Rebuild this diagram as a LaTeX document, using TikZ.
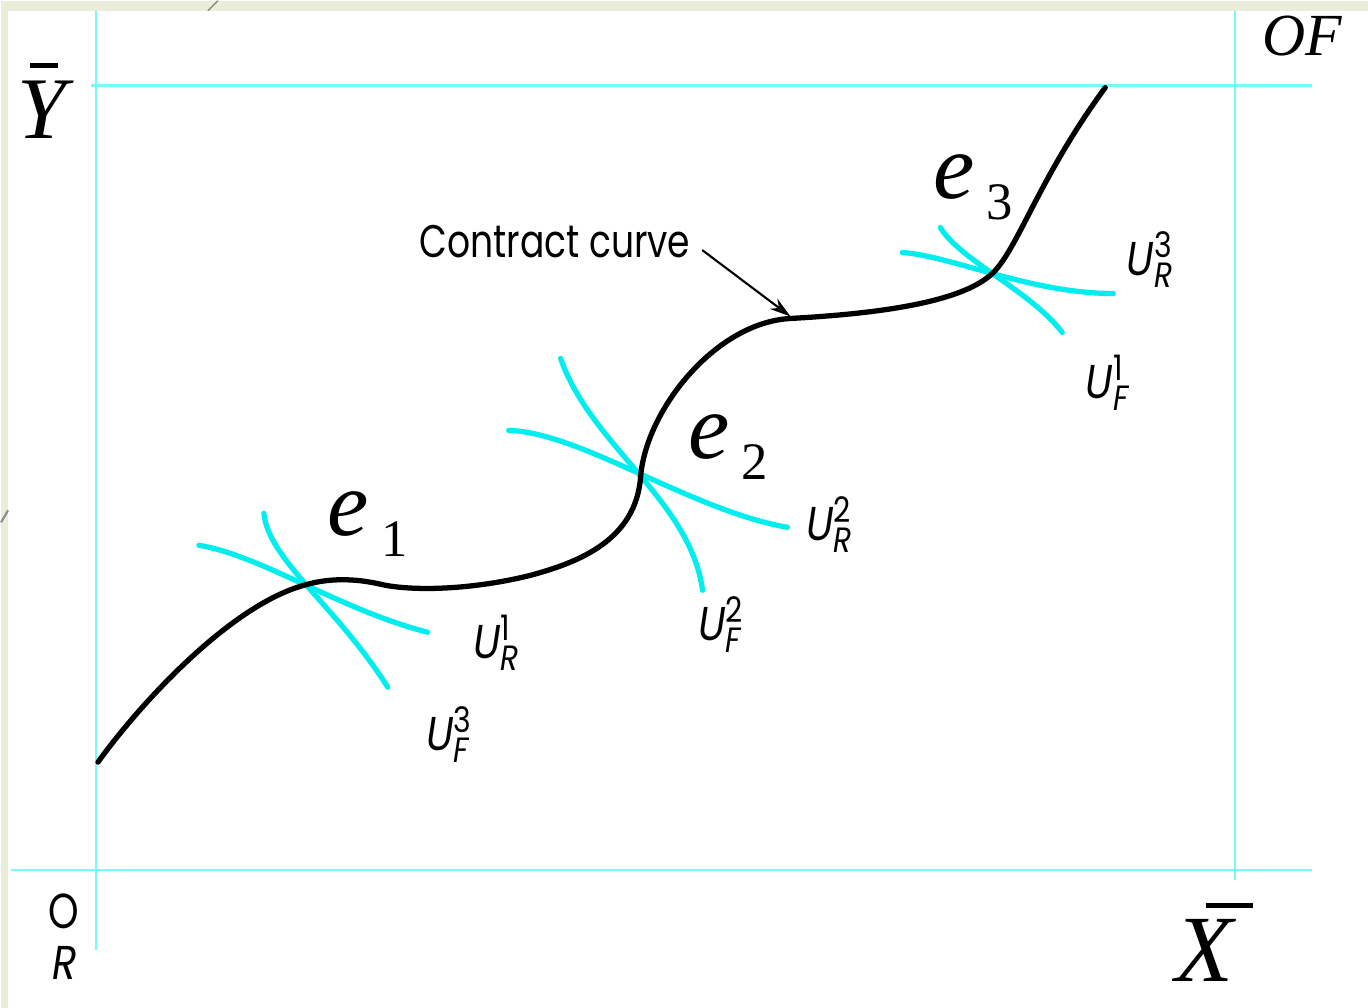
\documentclass[tikz,border=0pt]{standalone}
\usepackage{fontspec}
\usetikzlibrary{arrows.meta}
\setmainfont{Liberation Serif}
\newfontfamily\gothic[FakeStretch=0.85]{Poppins}
\newfontfamily\gothicnarrow[FakeStretch=0.79]{Poppins}

\definecolor{slidebg}{RGB}{234,237,217}
\definecolor{gridcyan}{RGB}{120,250,250}
\definecolor{indiff}{RGB}{0,238,238}

\tikzset{
  >={Stealth[length=6pt,width=3.6pt]}   % default arrow tip
}

% utility labels U^{n}_{X} and equilibrium labels e_n
\newcommand{\Ulab}[2]{{\gothic\fontsize{13.5}{13.5}\selectfont\itshape U}{\gothic\fontsize{10}{10}\selectfont\rlap{\raisebox{5pt}{#2}}\raisebox{-3.5pt}{\itshape #1}}}
\newcommand{\elab}[1]{{\fontsize{26.5}{26.5}\selectfont\itshape e}\hspace{3.5pt}\raisebox{-6pt}{\fontsize{15}{15}\selectfont #1}}

\begin{document}
\begin{tikzpicture}[x=0.01cm,y=-0.01cm,
  gridline/.style={gridcyan,line width=0.7pt},
  indcurve/.style={indiff,line width=1.5pt,line cap=round},
  contract/.style={black,line width=1.5pt,line cap=round}]
	% slide background
	\fill[slidebg] (0,0) rectangle (1368,1008);
	\fill[white] (7,10) rectangle (1368,1008);
	\draw[black!45,line width=0.4pt] (207,10) -- (217,0);
	\draw[black!45,line width=0.6pt] (0,522) -- (7,510);
	\useasboundingbox (0,0) rectangle (1368,1008);

	% box
	\draw[gridline] (95,950) -- (95,10);
	\draw[gridline] (1235,880) -- (1235,10);
	\draw[gridline] (90,85) -- (1312,85);
	\draw[gridline] (10,870) -- (1312,870);

	% corners and endowments
	\node[anchor=base west,inner sep=0] (ybar) at (16,138)
	  {\fontsize{25}{25}\selectfont\rlap{\hspace{3.5pt}\rule[20pt]{8pt}{1.4pt}}\textit{Y}};
	\node[anchor=base west,inner sep=0] (xbar) at (1175,982)
	  {\fontsize{27}{27}\selectfont\rlap{\hspace{8.5pt}\rule[21pt]{13.4pt}{1.6pt}}\textit{X}};
	\node[anchor=base west,inner sep=0] (oF) at (1262,55) {\fontsize{17}{17}\selectfont\textit{OF}};
	\node[anchor=base west,inner sep=0] (oR0) at (47,928) {\gothicnarrow\fontsize{14}{14}\selectfont O};
	\node[anchor=base west,inner sep=0] (oR1) at (51,980) {\gothic\fontsize{13.5}{13.5}\selectfont\itshape R};

	% equilibria
	\coordinate (e1) at (303,585);
	\coordinate (e2) at (640,477);
	\coordinate (e3) at (993,272);

	% indifference curves
	\draw[indcurve] (198,545) .. controls (260,555) and (340,610) .. (427,632);
	\draw[indcurve] (263,513) .. controls (268,560) and (335,605) .. (387,687);
	\draw[indcurve] (508,430) .. controls (580,432) and (690,510) .. (787,527);
	\draw[indcurve] (560,358) .. controls (590,445) and (690,500) .. (702,590);
	\draw[indcurve] (902,252) .. controls (950,255) and (1030,293) .. (1113,293);
	\draw[indcurve] (940,227) .. controls (960,260) and (1030,290) .. (1062,332);

	% contract curve
	\draw[contract] (97,762) .. controls (138,705) and (228,606) .. (e1)
	  .. controls (320,580) and (345,576) .. (380,584)
	  .. controls (410,591) and (470,590) .. (530,575)
	  .. controls (578,562) and (635,540) .. (e2)
	  .. controls (645,410) and (715,322) .. (790,318)
	  .. controls (860,314) and (960,305) .. (e3)
	  .. controls (1018,247) and (1040,175) .. (1105,87);

	% labels
	\node[anchor=base west,inner sep=0] (lab1) at (326,535) {\elab{1}};
	\node[anchor=base west,inner sep=0] (lab2) at (687,458) {\elab{2}};
	\node[anchor=base west,inner sep=0] (lab3) at (932,198) {\elab{3}};

	\node[anchor=base west,inner sep=0] (ur1) at (472,658) {\Ulab{R}{1}};
	\node[anchor=base west,inner sep=0] (uf3) at (425,750) {\Ulab{F}{3}};
	\node[anchor=base west,inner sep=0] (ur2) at (805,540) {\Ulab{R}{2}};
	\node[anchor=base west,inner sep=0] (uf2) at (697,640) {\Ulab{F}{2}};
	\node[anchor=base west,inner sep=0] (ur3) at (1126,275) {\Ulab{R}{3}};
	\node[anchor=base west,inner sep=0] (uf1) at (1085,398) {\Ulab{F}{1}};

	% contract curve pointer
	\node[anchor=base west,inner sep=0] (cclab) at (418,257) {\gothicnarrow\fontsize{13}{13}\selectfont Contract curve};
	\coordinate (cctip) at (790,316);
	\draw[->,line width=0.6pt,shorten <=4pt] (cclab.east) -- (cctip);

\end{tikzpicture}
\end{document}
